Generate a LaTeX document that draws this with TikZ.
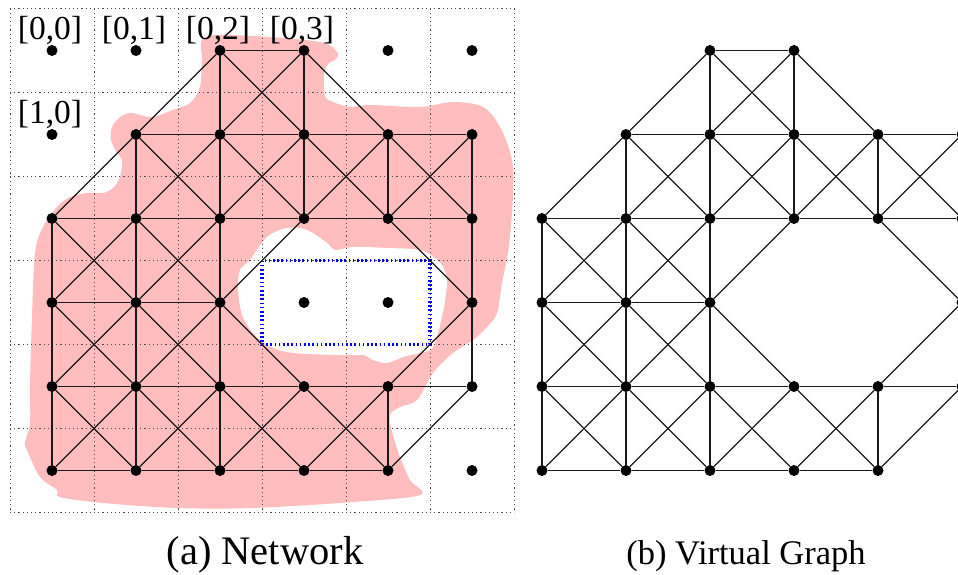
\documentclass[tikz,border=0pt]{standalone}
\usepackage{fontspec}
\setmainfont{Liberation Serif}
\definecolor{blobpink}{RGB}{255,189,189}
\tikzset{
  dotnode/.style={circle, fill=black, inner sep=0pt, minimum size=11pt},
  edgeline/.style={line width=1.1pt, black!90},
  gridline/.style={black!70, line width=1pt, dash pattern=on 1.2pt off 3pt},
  holebox/.style={blue, line width=3.6pt, dash pattern=on 1.6pt off 2.6pt},
  cell/.style={font=\fontsize{33.5}{40}\selectfont, anchor=base, inner sep=0pt},
  captionA/.style={font=\fontsize{40.5}{48}\selectfont, anchor=base, inner sep=0pt},
  captionB/.style={font=\fontsize{34.5}{41}\selectfont, anchor=base, inner sep=0pt},
}
\begin{document}
\begin{tikzpicture}[x=1pt,y=-1pt]
\useasboundingbox (0,0) rectangle (958,575);
\clip (0,0) rectangle (958,575);
% pink region
\fill[blobpink] plot[smooth cycle, tension=0.55] coordinates {
(205,37) (253,36) (320,42) (337,52) (336,59) (328,64) (324,75) (325,96) (333,102)
(350,107) (370,105) (420,107) (453,102) (483,107) (500,127) (512,160) (513,193)
(511,225) (508,253) (502,283) (497,313) (487,327) (473,340) (453,353) (433,373)
(417,400) (400,407) (390,415) (392,432) (400,457) (410,480) (420,495) (353,502)
(253,508) (177,508) (103,503) (60,497) (57,490) (40,477) (27,450) (25,442)
(30,423) (30,383) (32,317) (35,253) (43,227) (57,207) (70,197) (87,193) (103,193)
(113,188) (120,177) (122,160) (117,153) (111,140) (112,127) (120,117) (130,113)
(140,115) (153,117) (173,110) (190,103) (200,87) (202,60)};
\fill[white] plot[smooth cycle, tension=0.55] coordinates {
(250,260) (267,237) (287,228) (307,230) (327,243) (335,250) (353,247) (387,248)
(420,250) (437,260) (443,267) (447,283) (442,317) (433,347) (420,353) (403,357)
(387,363) (373,360) (363,355) (337,355) (287,352) (260,340) (243,317) (238,290)
(240,270)};
% dotted grid
\foreach \i in {0,...,6} {
  \draw[gridline] ({10+84*\i},8.5) -- ({10+84*\i},512.5);
  \draw[gridline] (10,{8.5+84*\i}) -- (514,{8.5+84*\i});
}
% hole boundary
\draw[holebox] (262,260.5) rectangle (430,344.5);
% nodes of both graphs
\foreach \r/\c in {0/2,0/3,1/1,1/2,1/3,1/4,1/5,2/0,2/1,2/2,2/3,2/4,2/5,3/0,3/1,3/2,3/5,
                   4/0,4/1,4/2,4/3,4/4,4/5,5/0,5/1,5/2,5/3,5/4} {
  \node[dotnode] (a\r\c) at ({52+84*\c},{50.5+84*\r}) {};
  \node[dotnode] (b\r\c) at ({542+84*\c},{50.5+84*\r}) {};
}
% isolated nodes
\foreach \r/\c in {0/0,0/1,0/4,0/5,1/0,3/3,3/4,5/5} {
  \node[dotnode] (i\r\c) at ({52+84*\c},{50.5+84*\r}) {};
}
% edges
\foreach \g in {a,b} {
  \foreach \u/\v in {
    02/03, 11/12, 12/13, 13/14, 14/15, 20/21, 21/22, 22/23, 23/24, 24/25,
    30/31, 31/32, 40/41, 41/42, 42/43, 43/44, 44/45, 50/51, 51/52, 52/53, 53/54,
    02/12, 03/13, 11/21, 12/22, 13/23, 14/24, 15/25, 20/30, 21/31, 22/32, 25/35,
    30/40, 31/41, 32/42, 35/45, 40/50, 41/51, 42/52, 44/54,
    02/13, 03/14, 11/22, 12/23, 13/24, 14/25, 20/31, 21/32, 24/35,
    30/41, 31/42, 32/43, 40/51, 41/52, 42/53, 43/54,
    02/11, 03/12, 11/20, 12/21, 13/22, 14/23, 15/24, 21/30, 22/31, 23/32,
    31/40, 32/41, 35/44, 41/50, 42/51, 43/52, 44/53, 45/54} {
    \draw[edgeline] (\g\u) -- (\g\v);
  }
}
% cell labels
\node[cell] (l00) at (50,39.5) {[0,0]};
\node[cell] (l01) at (134,39.5) {[0,1]};
\node[cell] (l02) at (218,39.5) {[0,2]};
\node[cell] (l03) at (302,39.5) {[0,3]};
\node[cell] (l10) at (50,123.5) {[1,0]};
% captions
\node[captionA] (capa) at (265,564) {(a) Network};
\node[captionB] (capb) at (746,564) {(b) Virtual Graph};
\end{tikzpicture}
\end{document}
